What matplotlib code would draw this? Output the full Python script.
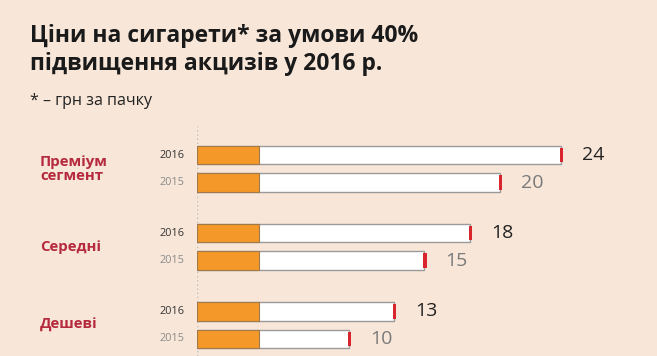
import numpy as np
import matplotlib.pyplot as plt
from matplotlib.patches import Rectangle

# -----------------------------
# Data
# -----------------------------
categories = ["Преміум\nсегмент", "Середні", "Дешеві"]
years = ["2016", "2015"]
prices_2016 = [24, 18, 13]
prices_2015 = [20, 15, 10]
filter_len = 4.1

title_lines = ["Ціни на сигарети* за умови 40%", "підвищення акцизів у 2016 р."]
subtitle = "* – грн за пачку"

# -----------------------------
# Style
# -----------------------------
bg = "#f8e7d9"
orange = "#f4982a"
red = "#b52a3c"
tip_red = "#d9262e"
edge = "#9a9a9a"

plt.rcParams['font.family'] = ['Open Sans', 'DejaVu Sans']

W, H = 657, 356
fig = plt.figure(figsize=(W / 100, H / 100), dpi=100, facecolor=bg)

# axes: x=0 at pixel 197, 15.15 px per unit; y in pixels from y=126
px_unit = 15.15
ax_left, ax_top = 197, 126
ax = fig.add_axes([ax_left / W, 0, (W - ax_left) / W, (H - ax_top) / H])
ax.set_xlim(0, (W - ax_left) / px_unit)
ax.set_ylim(H - ax_top, 0)
ax.axis('off')
ax.set_facecolor(bg)

first_y = 29
group_step = 78.2
bar_step = 27.5
bar_h = 18.5

ax.axvline(0, color="#bdbdbd", linestyle=(0, (1, 2)), linewidth=1, zorder=0)

for g, cat in enumerate(categories):
    for k, vals in enumerate([prices_2016, prices_2015]):
        v = vals[g]
        y = first_y + g * group_step + k * bar_step
        ax.add_patch(Rectangle((0, y - bar_h / 2), v, bar_h, facecolor="white",
                               edgecolor=edge, linewidth=1, zorder=2))
        ax.add_patch(Rectangle((0, y - bar_h / 2), filter_len, bar_h, facecolor=orange,
                               edgecolor="#a07a4a", linewidth=0.8, zorder=3))
        ax.add_patch(Rectangle((v - 0.05, y - bar_h / 2 + 2), 0.2, bar_h - 4,
                               facecolor=tip_red, edgecolor="none", zorder=4))
        col = "#222222" if k == 0 else "#7a7a7a"
        ax.text(v + 1.4, y, str(v), fontsize=14, color=col, va='center', ha='left')
        ax.text(-0.85, y, years[k], fontsize=7.8, color=("#333333" if k == 0 else "#8a8a8a"),
                va='center', ha='right', clip_on=False)
    ymid = first_y + g * group_step + bar_step / 2
    fig.text(40 / W, 1 - (ax_top + ymid) / H, cat, fontsize=10.8, fontweight='bold',
             color=red, va='center', ha='left', linespacing=1.0)

# -----------------------------
# Titles
# -----------------------------
for i, line in enumerate(title_lines):
    fig.text(30 / W, 1 - (42 + i * 28) / H, line, fontsize=16.5, fontweight='bold',
             color="#1a1a1a", va='baseline', ha='left')
fig.text(30 / W, 1 - 105 / H, subtitle, fontsize=11.5, color="#222222",
         va='baseline', ha='left')

fig.savefig("out.png", dpi=100, facecolor=bg)
